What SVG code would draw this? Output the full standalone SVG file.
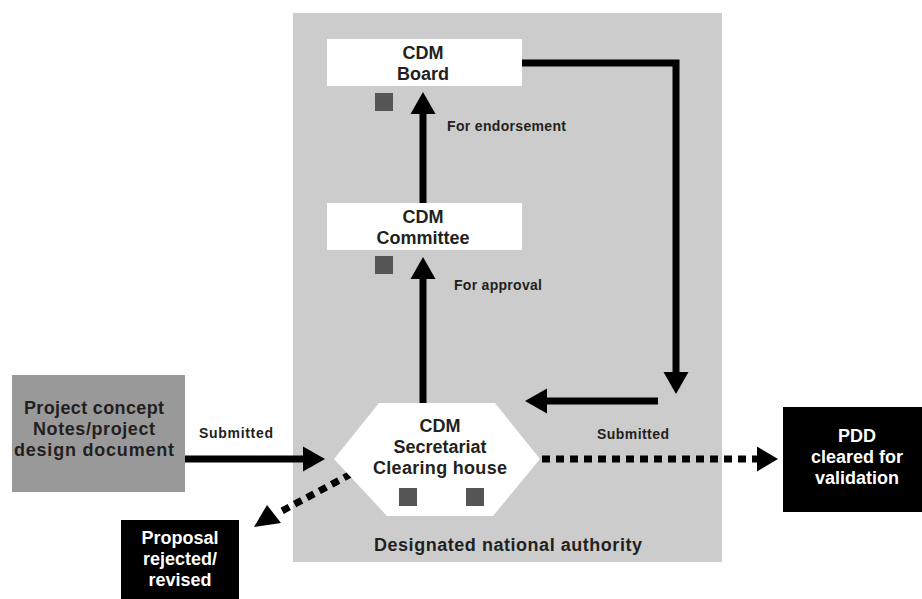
<svg xmlns="http://www.w3.org/2000/svg" width="922" height="599" viewBox="0 0 922 599">
<style>
  text { font-family: "Liberation Sans", Arial, sans-serif; font-weight: 700; }
  .t { font-size: 18px; fill: #231f20; text-anchor: middle; }
  .w { font-size: 18px; fill: #ffffff; text-anchor: middle; }
  .lbl { font-size: 14px; fill: #231f20; }
  .box { fill: #ffffff; }
  .sq { fill: #555555; }
  .solid { fill: none; stroke: #000000; stroke-width: 7; }
  .dot { fill: none; stroke: #000000; stroke-width: 7; stroke-dasharray: 8 6; }
  .head { fill: #000000; }
</style>

<rect id="dna-panel" x="293" y="13" width="429" height="549" fill="#cccccc"/>

<g id="connectors">
  <!-- Committee to Board -->
  <line class="solid" x1="423" y1="203" x2="423" y2="111"/>
  <polygon class="head" points="423,92 410.5,114 435.5,114"/>
  <!-- Secretariat to Committee -->
  <line class="solid" x1="423" y1="403" x2="423" y2="276"/>
  <polygon class="head" points="423,257 410.5,279 435.5,279"/>
  <!-- Board to right, down -->
  <polyline class="solid" points="522,63 676,63 676,375"/>
  <polygon class="head" points="676,394 663.5,372 688.5,372"/>
  <!-- left toward secretariat -->
  <line class="solid" x1="658" y1="401" x2="545" y2="401"/>
  <polygon class="head" points="525,401 547,388.5 547,413.5"/>
  <!-- Project to Secretariat -->
  <line class="solid" x1="185" y1="459" x2="305" y2="459"/>
  <polygon class="head" points="325,459 303,446.5 303,471.5"/>
  <!-- Secretariat to PDD (dotted) -->
  <line class="dot" x1="542" y1="459" x2="757" y2="459"/>
  <polygon class="head" points="778,459 757,446.5 757,471.5"/>
  <!-- Secretariat to Proposal rejected (dotted) -->
  <line class="dot" x1="351" y1="474" x2="280" y2="512" stroke-width="6" stroke-dasharray="7 5"/>
  <polygon class="head" points="254,527 267,505 281,523"/>
</g>

<g id="board">
  <rect class="box" x="327" y="39" width="195" height="47"/>
  <text class="t" x="423" y="59">CDM</text>
  <text class="t" x="423" y="80">Board</text>
  <rect class="sq" x="375" y="93" width="18" height="18"/>
</g>

<g id="committee">
  <rect class="box" x="327" y="203" width="195" height="47"/>
  <text class="t" x="423" y="223">CDM</text>
  <text class="t" x="423" y="244">Committee</text>
  <rect class="sq" x="375" y="256" width="18" height="18"/>
</g>

<g id="secretariat">
  <polygon class="box" points="334,459 379,403 495,403 540,459 493,516 387,516"/>
  <text class="t" x="440" y="432">CDM</text>
  <text class="t" x="440" y="453">Secretariat</text>
  <text class="t" x="440" y="474" textLength="134" lengthAdjust="spacing">Clearing house</text>
  <rect class="sq" x="399" y="488" width="18" height="18"/>
  <rect class="sq" x="466" y="488" width="18" height="18"/>
</g>

<g id="project">
  <rect x="12" y="375" width="173" height="117" fill="#999999"/>
  <text class="t" x="94" y="414" textLength="140" lengthAdjust="spacing">Project concept</text>
  <text class="t" x="94" y="435" textLength="122" lengthAdjust="spacing">Notes/project</text>
  <text class="t" x="94" y="456" textLength="160" lengthAdjust="spacing">design document</text>
</g>

<g id="pdd">
  <rect x="783" y="407" width="139" height="105" fill="#000000"/>
  <text class="w" x="857" y="442">PDD</text>
  <text class="w" x="857" y="463">cleared for</text>
  <text class="w" x="857" y="484">validation</text>
</g>

<g id="proposal">
  <rect x="121" y="520" width="118" height="79" fill="#000000"/>
  <text class="w" x="180" y="544">Proposal</text>
  <text class="w" x="180" y="565">rejected/</text>
  <text class="w" x="180" y="586">revised</text>
</g>

<g id="labels">
  <text class="lbl" x="447" y="131" textLength="119" lengthAdjust="spacing">For endorsement</text>
  <text class="lbl" x="454" y="290" textLength="88" lengthAdjust="spacing">For approval</text>
  <text class="lbl" x="199" y="438" textLength="74" lengthAdjust="spacing">Submitted</text>
  <text class="lbl" x="597" y="439" textLength="72" lengthAdjust="spacing">Submitted</text>
  <text class="t" x="508" y="551" textLength="268" lengthAdjust="spacing">Designated national authority</text>
</g>
</svg>
